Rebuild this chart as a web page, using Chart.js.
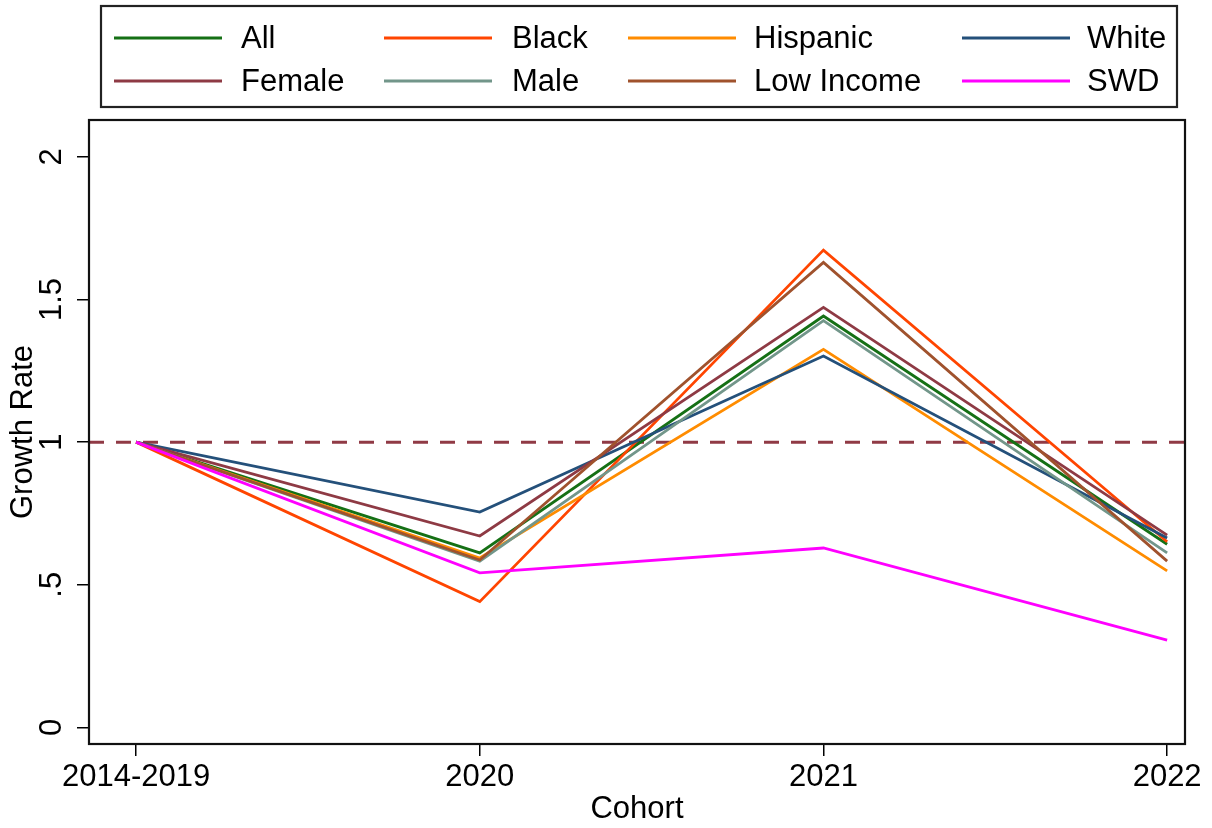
<!DOCTYPE html>
<html>
<head>
<meta charset="utf-8">
<script src="https://cdn.jsdelivr.net/npm/chart.js@4"></script>
<style>
  body { margin: 0; background: #fff; }
  #wrap { width: 1212px; height: 828px; }
</style>
</head>
<body>
<div id="wrap"><canvas id="growthChart" width="1212" height="828"></canvas></div>
<script>
const cohorts = ['2014-2019', '2020', '2021', '2022'];
const yTicks = [0, 0.5, 1, 1.5, 2];
const yTickLabels = ['0', '.5', '1', '1.5', '2'];
const refLevel = 1;

const allStudents = [1, 0.612, 1.442, 0.642];
const black = [1, 0.441, 1.673, 0.651];
const hispanic = [1, 0.594, 1.325, 0.549];
const white = [1, 0.755, 1.302, 0.664];
const female = [1, 0.671, 1.472, 0.674];
const male = [1, 0.583, 1.426, 0.612];
const lowIncome = [1, 0.587, 1.630, 0.583];
const swd = [1, 0.542, 0.629, 0.306];

const FONT = '"Liberation Sans", Arial, Helvetica, sans-serif';

const series = [
  { label: 'All', values: allStudents, color: '#157015' },
  { label: 'Black', values: black, color: '#ff4500' },
  { label: 'Hispanic', values: hispanic, color: '#ff8c00' },
  { label: 'White', values: white, color: '#24507a' },
  { label: 'Female', values: female, color: '#8e3a44' },
  { label: 'Male', values: male, color: '#72968a' },
  { label: 'Low Income', values: lowIncome, color: '#a0522d' },
  { label: 'SWD', values: swd, color: '#ff00ff' }
];

const datasets = series.map((s, i) => ({
  label: s.label,
  data: s.values.map((v, j) => ({ x: j, y: v })),
  borderColor: s.color,
  backgroundColor: s.color,
  borderWidth: 2.8,
  pointRadius: 0,
  tension: 0,
  fill: false,
  order: series.length - i // later series drawn on top, like Stata
}));

// dashed reference line at y = 1, behind the series
const refLine = {
  id: 'refLine',
  beforeDatasetsDraw(chart) {
    const { ctx, chartArea, scales } = chart;
    const y = scales.y.getPixelForValue(refLevel);
    ctx.save();
    ctx.strokeStyle = '#903a45';
    ctx.lineWidth = 3;
    ctx.setLineDash([15, 12]);
    ctx.beginPath();
    ctx.moveTo(chartArea.left, y);
    ctx.lineTo(chartArea.right, y);
    ctx.stroke();
    ctx.restore();
  }
};

// box round the plot region
const frame = {
  id: 'frame',
  afterDatasetsDraw(chart) {
    const { ctx, chartArea } = chart;
    ctx.save();
    ctx.strokeStyle = '#111';
    ctx.lineWidth = 2.2;
    ctx.strokeRect(chartArea.left, chartArea.top, chartArea.right - chartArea.left, chartArea.bottom - chartArea.top);
    ctx.restore();
  }
};

// Stata style legend: boxed, 4 columns x 2 rows
const boxLegend = {
  id: 'boxLegend',
  afterDraw(chart) {
    const ctx = chart.ctx;
    const lineX = [114, 384, 628, 962];
    const textX = [241, 512, 754, 1087];
    const rowY = [38, 81];
    ctx.save();
    ctx.strokeStyle = '#222';
    ctx.lineWidth = 2.2;
    ctx.strokeRect(101, 6, 1076, 101);
    ctx.font = '31px ' + FONT;
    ctx.textBaseline = 'middle';
    ctx.textAlign = 'left';
    chart.data.datasets.forEach((ds, i) => {
      const col = i % 4, row = Math.floor(i / 4);
      ctx.strokeStyle = ds.borderColor;
      ctx.lineWidth = 3;
      ctx.beginPath();
      ctx.moveTo(lineX[col], rowY[row]);
      ctx.lineTo(lineX[col] + 108, rowY[row]);
      ctx.stroke();
      ctx.fillStyle = '#000';
      ctx.fillText(ds.label, textX[col], rowY[row] + 1);
    });
    ctx.restore();
  }
};

new Chart(document.getElementById('growthChart'), {
  type: 'line',
  data: { datasets: datasets },
  plugins: [refLine, frame, boxLegend],
  options: {
    responsive: false,
    animation: false,
    layout: { padding: { top: 120, right: 27, left: 0, bottom: 0 } },
    plugins: { legend: { display: false }, tooltip: { enabled: false } },
    scales: {
      x: {
        type: 'linear',
        min: -0.137,
        max: 3.052,
        afterBuildTicks: scale => { scale.ticks = cohorts.map((c, i) => ({ value: i })); },
        afterFit: scale => { scale.height = 84; },
        grid: { drawOnChartArea: false, drawTicks: true, tickLength: 12, color: '#000', lineWidth: 1.5 },
        border: { display: false },
        ticks: {
          color: '#000',
          font: { family: FONT, size: 31 },
          padding: 3,
          maxRotation: 0,
          minRotation: 0,
          callback: v => cohorts[v]
        },
        title: {
          display: true,
          text: 'Cohort',
          color: '#000',
          font: { family: FONT, size: 31 },
          padding: { top: 0, bottom: 0 }
        }
      },
      y: {
        min: -0.058,
        max: 2.129,
        afterBuildTicks: scale => { scale.ticks = yTicks.map(v => ({ value: v })); },
        afterFit: scale => { scale.width = 89; },
        grid: { drawOnChartArea: false, drawTicks: true, tickLength: 12, color: '#000', lineWidth: 1.5 },
        border: { display: false },
        ticks: {
          color: '#000',
          font: { family: FONT, size: 31 },
          padding: 3,
          minRotation: 90,
          maxRotation: 90,
          crossAlign: 'center',
          callback: v => yTickLabels[yTicks.indexOf(v)]
        },
        title: {
          display: true,
          text: 'Growth Rate',
          color: '#000',
          font: { family: FONT, size: 31 },
          padding: { top: 5, bottom: 0 }
        }
      }
    }
  }
});
</script>
</body>
</html>
